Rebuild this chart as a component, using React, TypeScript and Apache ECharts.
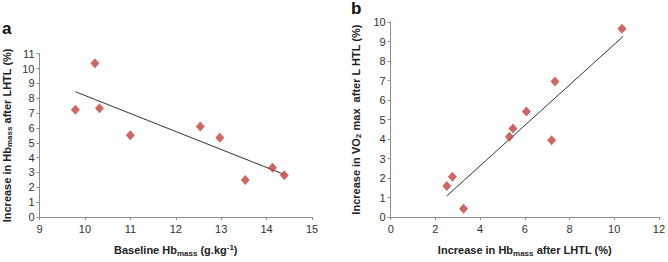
import React, { useEffect, useRef } from "react";
import * as echarts from "echarts";

// Panel a: baseline Hb mass vs increase in Hb mass
const aBaseline = [9.79, 10.22, 10.32, 11.0, 12.54, 12.97, 13.53, 14.13, 14.39];
const aIncrease = [7.22, 10.36, 7.33, 5.5, 6.1, 5.33, 2.5, 3.31, 2.81];
const aTrendX = [9.79, 14.4];
const aTrendY = [8.44, 2.85];

// Panel b: increase in Hb mass vs increase in VO2 max
const bHbIncrease = [2.51, 2.76, 3.26, 5.31, 5.47, 6.07, 7.2, 7.35, 10.35];
const bVo2Increase = [1.59, 2.07, 0.42, 4.12, 4.54, 5.41, 3.93, 6.95, 9.66];
const bTrendX = [2.51, 10.4];
const bTrendY = [1.08, 9.26];

const FONT = "'Liberation Sans', Arial, Helvetica, sans-serif";
const RED = "#c5413e";
const AXIS = "#8c8c8c";

const rich = {
  t: { fontFamily: FONT, fontSize: 11, fontWeight: "bold", color: "#222" },
  sub: { fontFamily: FONT, fontSize: 8, fontWeight: "bold", color: "#222", padding: [6, 0, 0, 0] },
  sup: { fontFamily: FONT, fontSize: 8, fontWeight: "bold", color: "#222", padding: [0, 0, 6, 0] },
};

function axisCommon(min: number, max: number, interval: number) {
  return {
    type: "value" as const,
    min,
    max,
    interval,
    splitLine: { show: false },
    axisLine: { show: true, onZero: false, lineStyle: { color: AXIS, width: 1 } },
    axisTick: { show: true, inside: false, length: 3, lineStyle: { color: AXIS } },
    axisLabel: { fontFamily: FONT, fontSize: 11, color: "#333" },
    nameLocation: "middle" as const,
    nameTextStyle: { rich },
  };
}

export default function App() {
  const ref = useRef<HTMLDivElement>(null);
  useEffect(() => {
    if (!ref.current) return;
    const chart = echarts.init(ref.current, undefined, { renderer: "svg" });
    chart.setOption({
      animation: false,
      backgroundColor: "#fff",
      textStyle: { fontFamily: FONT },
      title: [
        { text: "a", left: -3, top: 15, textStyle: { fontFamily: FONT, fontSize: 17, fontWeight: "bold", color: "#111" } },
        { text: "b", left: 346, top: -5, textStyle: { fontFamily: FONT, fontSize: 17, fontWeight: "bold", color: "#111" } },
      ],
      grid: [
        { left: 39.5, top: 53.7, width: 272.5, height: 166 },
        { left: 390.7, top: 22, width: 271, height: 197.7 },
      ],
      xAxis: [
        {
          ...axisCommon(9, 15, 1),
          gridIndex: 0,
          name: "{t|Baseline Hb}{sub|mass}{t| (g.kg}{sup|-1}{t|)}",
          nameGap: 26,
          axisLabel: { fontFamily: FONT, fontSize: 11, color: "#333", margin: 6 },
        },
        {
          ...axisCommon(0, 12, 2),
          gridIndex: 1,
          name: "{t|Increase in Hb}{sub|mass}{t| after LHTL (%)}",
          nameGap: 26,
          axisLabel: { fontFamily: FONT, fontSize: 11, color: "#333", margin: 6 },
        },
      ],
      yAxis: [
        {
          ...axisCommon(0, 11, 1),
          gridIndex: 0,
          name: "{t|Increase in Hb}{sub|mass}{t| after LHTL (%)}",
          nameGap: 26,
          axisLabel: { fontFamily: FONT, fontSize: 11, color: "#333", margin: 5 },
        },
        {
          ...axisCommon(0, 10, 1),
          gridIndex: 1,
          name: "{t|Increase in VO}{sub|2}{t| max  after L HTL (%)}",
          nameGap: 28,
          axisLabel: { fontFamily: FONT, fontSize: 11, color: "#333", margin: 5 },
        },
      ],
      series: [
        {
          type: "line",
          xAxisIndex: 0,
          yAxisIndex: 0,
          data: aTrendX.map((x, i) => [x, aTrendY[i]]),
          symbol: "none",
          lineStyle: { color: "#333", width: 1 },
          silent: true,
          z: 1,
        },
        {
          type: "scatter",
          xAxisIndex: 0,
          yAxisIndex: 0,
          data: aBaseline.map((x, i) => [x, aIncrease[i]]),
          symbol: "diamond",
          symbolSize: [9, 10],
          itemStyle: { color: RED },
          z: 2,
        },
        {
          type: "line",
          xAxisIndex: 1,
          yAxisIndex: 1,
          data: bTrendX.map((x, i) => [x, bTrendY[i]]),
          symbol: "none",
          lineStyle: { color: "#333", width: 1 },
          silent: true,
          z: 1,
        },
        {
          type: "scatter",
          xAxisIndex: 1,
          yAxisIndex: 1,
          data: bHbIncrease.map((x, i) => [x, bVo2Increase[i]]),
          symbol: "diamond",
          symbolSize: [9, 10],
          itemStyle: { color: RED },
          z: 2,
        },
      ],
    });
    return () => chart.dispose();
  }, []);
  return (
    <div
      ref={ref}
      style={{ position: "fixed", left: 0, top: 0, width: 668, height: 262, background: "#fff" }}
    />
  );
}
